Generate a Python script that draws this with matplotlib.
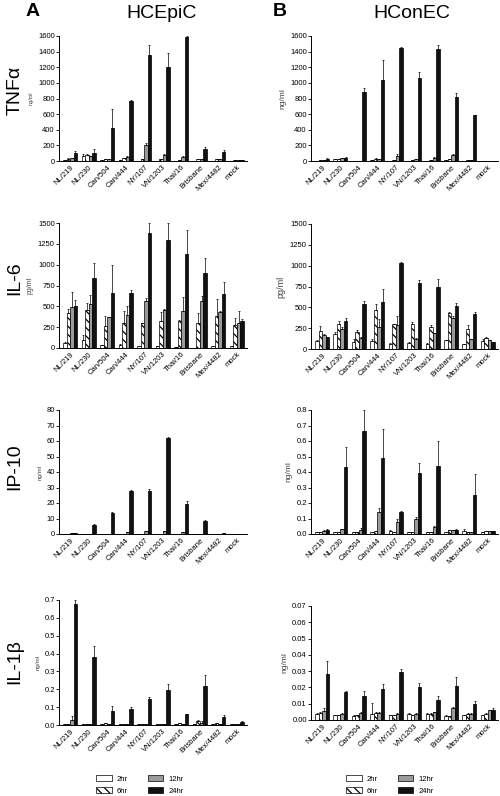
import numpy as np
import matplotlib
matplotlib.use("Agg")
import matplotlib.pyplot as plt
from matplotlib.patches import Patch
from matplotlib.ticker import MultipleLocator, FormatStrFormatter

plt.rcParams['font.family'] = ['Liberation Sans', 'DejaVu Sans']
plt.rcParams['hatch.linewidth'] = 0.9

strains = ["NL/219", "NL/230", "Can/504", "Can/444", "NY/107", "VN/1203",
           "Thai/16", "Brisbane", "Mex/4482", "mock"]
times = ["2hr", "6hr", "12hr", "24hr"]

# rows: 2hr, 6hr, 12hr, 24hr  -- values and upper error length
tnf_epi = [[15, 70, 10, 10, 5, 5, 5, 5, 5, 5],
           [30, 75, 30, 35, 20, 20, 15, 25, 25, 15],
           [35, 60, 30, 55, 205, 75, 50, 25, 25, 10],
           [100, 100, 425, 765, 1360, 1205, 1585, 160, 110, 10]]
tnf_epi_err = [[0, 20, 0, 0, 0, 0, 0, 0, 0, 0],
               [5, 10, 0, 5, 0, 0, 0, 5, 5, 0],
               [5, 5, 0, 5, 20, 10, 10, 0, 0, 0],
               [25, 55, 240, 20, 130, 175, 15, 20, 30, 0]]

tnf_con = [[5, 30, 5, 10, 5, 5, 5, 10, 5, 5],
           [15, 20, 5, 30, 15, 10, 10, 30, 10, 5],
           [10, 35, 5, 25, 60, 20, 40, 80, 10, 5],
           [30, 40, 880, 1040, 1450, 1060, 1440, 815, 585, 5]]
tnf_con_err = [[0, 0, 0, 0, 0, 0, 0, 0, 0, 0],
               [0, 0, 0, 5, 0, 0, 0, 0, 0, 0],
               [0, 0, 0, 0, 30, 5, 15, 10, 0, 0],
               [10, 5, 60, 250, 10, 75, 40, 60, 5, 0]]

il6_epi = [[60, 100, 35, 40, 20, 30, 15, 5, 25, 25],
           [420, 455, 260, 305, 295, 320, 330, 305, 385, 280],
           [495, 530, 370, 395, 560, 460, 445, 560, 430, 305],
           [510, 840, 665, 665, 1375, 1295, 1125, 905, 645, 330]]
il6_epi_err = [[15, 60, 0, 5, 0, 0, 0, 0, 0, 0],
               [50, 90, 125, 135, 10, 110, 10, 115, 205, 85],
               [180, 110, 5, 105, 35, 5, 165, 60, 15, 140],
               [70, 185, 335, 35, 125, 205, 290, 180, 150, 20]]

il6_con = [[95, 185, 90, 95, 65, 75, 60, 105, 55, 100],
           [220, 305, 210, 465, 300, 295, 260, 430, 235, 135],
           [165, 245, 135, 265, 285, 125, 190, 375, 120, 105],
           [140, 340, 540, 560, 1030, 790, 745, 520, 415, 80]]
il6_con_err = [[10, 20, 35, 30, 10, 15, 10, 0, 5, 15],
               [55, 35, 15, 70, 5, 25, 30, 10, 55, 10],
               [20, 20, 10, 90, 115, 5, 5, 20, 0, 5],
               [0, 35, 40, 165, 10, 40, 90, 35, 30, 0]]

ip10_epi = [[0.1, 0.1, 0.1, 0.1, 0.1, 0.1, 0.1, 0.1, 0.05, 0.05],
            [0.2, 0.1, 0.1, 0.2, 0.2, 0.2, 0.2, 0.1, 0.1, 0.1],
            [0.5, 0.3, 0.2, 1.2, 1.8, 1.8, 1.0, 0.3, 0.1, 0.2],
            [0.7, 5.5, 13.8, 27.8, 27.5, 62, 19.2, 8.7, 0.7, 0.2]]
ip10_epi_err = [[0, 0, 0, 0, 0, 0, 0, 0, 0, 0],
                [0, 0, 0, 0, 0, 0, 0, 0, 0, 0],
                [0, 0, 0, 0.2, 0.4, 0.4, 0.2, 0, 0, 0],
                [0.1, 0.8, 0.5, 0.3, 1.3, 0.3, 2.3, 0.5, 0.1, 0]]

ip10_con = [[0.015, 0.015, 0.015, 0.015, 0.02, 0.015, 0.015, 0.015, 0.02, 0.015],
            [0.015, 0.015, 0.015, 0.02, 0.015, 0.015, 0.015, 0.025, 0.015, 0.02],
            [0.02, 0.03, 0.025, 0.145, 0.075, 0.095, 0.045, 0.025, 0.015, 0.02],
            [0.025, 0.43, 0.665, 0.49, 0.14, 0.395, 0.44, 0.025, 0.25, 0.02]]
ip10_con_err = [[0, 0, 0, 0, 0.005, 0, 0, 0, 0.01, 0],
                [0, 0, 0, 0, 0, 0, 0, 0, 0, 0],
                [0.003, 0.005, 0.015, 0.02, 0.02, 0.015, 0.005, 0.003, 0, 0],
                [0.005, 0.13, 0.135, 0.185, 0.01, 0.065, 0.16, 0.005, 0.14, 0]]

il1b_epi = [[0.005, 0.005, 0.005, 0.005, 0.005, 0.003, 0.005, 0.005, 0.008, 0.005],
            [0.008, 0.008, 0.01, 0.005, 0.005, 0.005, 0.01, 0.02, 0.012, 0.005],
            [0.03, 0.008, 0.005, 0.005, 0.005, 0.008, 0.005, 0.012, 0.005, 0.005],
            [0.675, 0.38, 0.08, 0.09, 0.145, 0.195, 0.06, 0.22, 0.045, 0.018]]
il1b_epi_err = [[0, 0, 0, 0, 0, 0, 0, 0, 0, 0],
                [0, 0, 0, 0, 0, 0, 0, 0.01, 0, 0],
                [0.022, 0, 0, 0, 0, 0, 0, 0.008, 0, 0],
                [0.025, 0.065, 0.025, 0.01, 0.01, 0.035, 0.002, 0.06, 0.01, 0.004]]

il1b_con = [[0.0035, 0.003, 0.0025, 0.0035, 0.003, 0.0035, 0.0035, 0.0025, 0.003, 0.003],
            [0.004, 0.003, 0.003, 0.004, 0.003, 0.003, 0.0035, 0.0025, 0.0035, 0.0035],
            [0.0055, 0.0035, 0.004, 0.0045, 0.0035, 0.0035, 0.005, 0.0075, 0.0035, 0.006],
            [0.0285, 0.0175, 0.0145, 0.019, 0.0295, 0.020, 0.012, 0.021, 0.010, 0.006]]
il1b_con_err = [[0.0005, 0, 0.0005, 0.007, 0, 0.0005, 0.0005, 0.0005, 0, 0],
                [0.001, 0, 0, 0.001, 0, 0, 0.0005, 0, 0.0005, 0.0005],
                [0.002, 0.0005, 0.001, 0.0005, 0.0005, 0.0005, 0, 0.0005, 0.0005, 0],
                [0.0075, 0.0005, 0.0035, 0.003, 0.002, 0.003, 0.003, 0.0055, 0.0015, 0.0015]]

faces = ["white", "white", "#9a9a9a", "#111111"]
hatches = [None, "\\\\\\\\", None, None]

fig = plt.figure(figsize=(5, 7.96), dpi=100)
H = 796.0

def make_ax(x0, x1, ytop, ybot):
    return fig.add_axes([x0 / 500.0, 1 - ybot / H, (x1 - x0) / 500.0, (ybot - ytop) / H])

def draw(ax, vals, errs, ymax, step, fmt, ylab, labsize):
    x = np.arange(len(strains))
    w = 0.19
    for k in range(4):
        pos = x + (k - 1.5) * w
        ax.bar(pos, vals[k], w, color=faces[k], edgecolor="black", linewidth=0.5,
               hatch=hatches[k], zorder=2)
        e = np.array(errs[k])
        ax.errorbar(pos, vals[k], yerr=[np.zeros_like(e), e], fmt="none",
                    ecolor="black", elinewidth=0.5, capsize=1.0, capthick=0.5, zorder=3)
    ax.set_xlim(-0.6, len(strains) - 0.45)
    ax.set_ylim(0, ymax)
    ax.yaxis.set_major_locator(MultipleLocator(step))
    ax.yaxis.set_major_formatter(FormatStrFormatter(fmt))
    ax.set_xticks(x)
    ax.set_xticklabels(strains, rotation=45, ha="right", rotation_mode="anchor", fontsize=5.5)
    ax.tick_params(axis="y", labelsize=5.5, length=2, width=0.6, pad=1)
    ax.tick_params(axis="x", length=0, pad=2)
    ax.spines["top"].set_visible(False)
    ax.spines["right"].set_visible(False)
    ax.spines["left"].set_linewidth(0.7)
    ax.spines["bottom"].set_linewidth(0.7)
    ax.set_ylabel(ylab, fontsize=labsize, color="#444444", labelpad=3)

# column A (HCEpiC)
ax = make_ax(59, 247, 36, 161)
draw(ax, tnf_epi, tnf_epi_err, 1600, 200, "%d", "ng/ml", 4)
ax = make_ax(59, 247, 223, 348)
draw(ax, il6_epi, il6_epi_err, 1500, 250, "%d", "pg/ml", 5)
ax = make_ax(59, 247, 410, 534)
draw(ax, ip10_epi, ip10_epi_err, 80, 10, "%d", "ng/ml", 4.5)
ax_la = make_ax(59, 247, 600, 725)
draw(ax_la, il1b_epi, il1b_epi_err, 0.7, 0.1, "%.1f", "ng/ml", 4.5)

# column B (HConEC)
ax = make_ax(311, 498, 36, 161)
draw(ax, tnf_con, tnf_con_err, 1600, 200, "%d", "ng/ml", 6)
ax = make_ax(311, 498, 224, 349)
draw(ax, il6_con, il6_con_err, 1500, 250, "%d", "pg/ml", 6.5)
ax = make_ax(311, 498, 410, 534)
draw(ax, ip10_con, ip10_con_err, 0.8, 0.1, "%.1f", "ng/ml", 6)
ax_lb = make_ax(311, 498, 606, 720)
draw(ax_lb, il1b_con, il1b_con_err, 0.07, 0.01, "%.2f", "ng/ml", 6)

# titles, panel letters, row labels
fig.text(162 / 500.0, 1 - 13 / H, "HCEpiC", fontsize=14, ha="center", va="center")
fig.text(412 / 500.0, 1 - 13 / H, "HConEC", fontsize=14, ha="center", va="center")
fig.text(33 / 500.0, 1 - 12 / H, "A", fontsize=14, fontweight="bold", ha="center", va="center")
fig.text(280 / 500.0, 1 - 12 / H, "B", fontsize=14, fontweight="bold", ha="center", va="center")
for lab, yc in [("TNFα", 90), ("IL-6", 278), ("IP-10", 467), ("IL-1β", 662)]:
    fig.text(15 / 500.0, 1 - yc / H, lab, fontsize=14, rotation=90, ha="center", va="center")

# legends
handles = [Patch(facecolor=faces[k], edgecolor="black", linewidth=0.5, hatch=hatches[k],
                 label=times[k]) for k in range(4)]
for xc in (140, 390):
    fig.legend(handles=handles, ncol=2, loc="center", bbox_to_anchor=(xc / 500.0, 1 - 785 / H),
               frameon=False, fontsize=5.5, handlelength=2.0, handleheight=0.8,
               columnspacing=2.6, labelspacing=0.6, handletextpad=0.7)

fig.savefig("out.png", dpi=100)
